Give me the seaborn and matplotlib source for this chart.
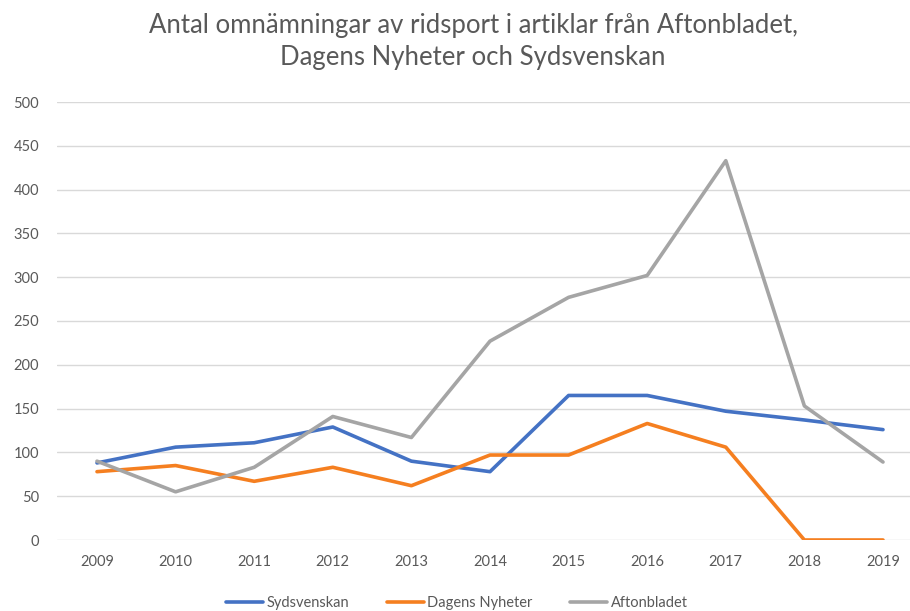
import matplotlib
matplotlib.use("Agg")
import matplotlib.pyplot as plt
import seaborn as sns
import pandas as pd

years = ["2009", "2010", "2011", "2012", "2013", "2014", "2015", "2016", "2017", "2018", "2019"]
sydsvenskan = [88, 106, 111, 129, 90, 78, 165, 165, 147, 137, 126]
dagens_nyheter = [78, 85, 67, 83, 62, 97, 97, 133, 106, 0, 0]
aftonbladet = [90, 55, 83, 141, 117, 227, 277, 302, 433, 153, 89]
series_names = ["Sydsvenskan", "Dagens Nyheter", "Aftonbladet"]
colors = ["#4472C4", "#F57F20", "#A5A5A5"]

rows = []
for name, vals in zip(series_names, [sydsvenskan, dagens_nyheter, aftonbladet]):
    for i, v in enumerate(vals):
        rows.append({"idx": i, "value": v, "serie": name})
df = pd.DataFrame(rows)

sns.set_theme(style="white")
plt.rcParams["font.family"] = ["Lato", "DejaVu Sans"]

W, H = 910, 611
fig = plt.figure(figsize=(W / 100, H / 100), dpi=100)
L, R = 57, 910
top_px, bot_px = 102, 540
ax = fig.add_axes([L / W, 1 - bot_px / H, (R - L) / W, (bot_px - top_px) / H])

sns.lineplot(data=df, x="idx", y="value", hue="serie", hue_order=series_names,
             palette=colors, linewidth=2.6, ax=ax, legend=False, sort=False)

step = (883 - 97) / 10
ax.set_xlim((L - 97) / step, (R - 97) / step)
ax.set_ylim(0, 500)
ax.set_yticks(range(0, 501, 50))
ax.set_xticks(range(len(years)))
ax.set_xticklabels(years)
ax.yaxis.grid(True, color="#D9D9D9", linewidth=1.0)
ax.set_axisbelow(True)
for s in ax.spines.values():
    s.set_visible(False)
ax.tick_params(axis="both", length=0, labelsize=10.5, labelcolor="#595959")
ax.tick_params(axis="y", pad=13)
ax.tick_params(axis="x", pad=11)
ax.set_xlabel("")
ax.set_ylabel("")

fig.text(473 / W, 1 - 25 / H, "Antal omnämningar av ridsport i artiklar från Aftonbladet,",
         ha="center", va="center", fontsize=18.5, color="#595959")
fig.text(473 / W, 1 - 58 / H, "Dagens Nyheter och Sydsvenskan",
         ha="center", va="center", fontsize=18.5, color="#595959")

from matplotlib.lines import Line2D
handles = [Line2D([0], [0], color=c, lw=2.6) for c in colors]
fig.legend(handles, series_names, loc="center", bbox_to_anchor=(457 / W, 1 - 603 / H),
           ncol=3, frameon=False, fontsize=10.5, labelcolor="#595959",
           handlelength=2.5, handletextpad=0.25, columnspacing=2.6)

fig.savefig("out.png", dpi=100)
